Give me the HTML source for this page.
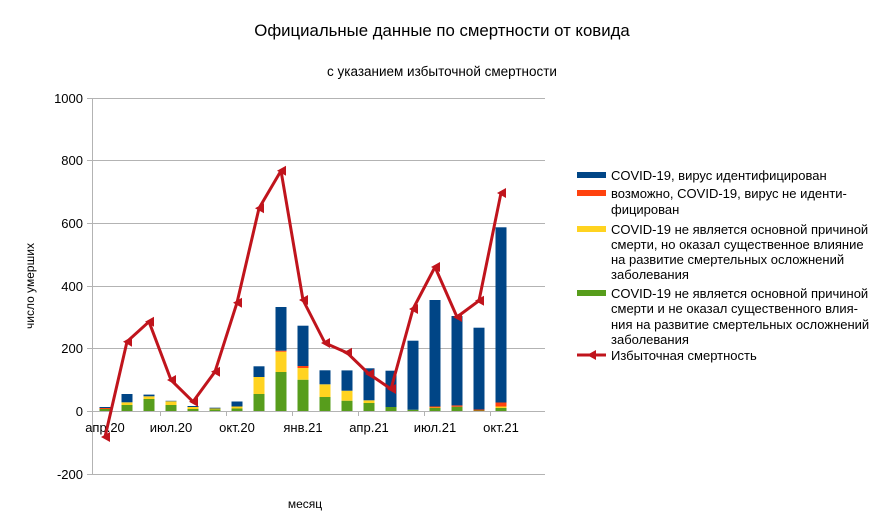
<!DOCTYPE html>
<html><head><meta charset="utf-8"><style>
body{margin:0;background:#fff}
svg{display:block;font-family:"Liberation Sans","DejaVu Sans",sans-serif}
</style></head><body>
<svg width="882" height="531" viewBox="0 0 882 531" xmlns="http://www.w3.org/2000/svg">
<rect width="882" height="531" fill="#fff"/>
<text x="442" y="36" font-size="16.8" text-anchor="middle" fill="#000">Официальные данные по смертности от ковида</text>
<text x="442" y="76" font-size="13.5" text-anchor="middle" fill="#000">с указанием избыточной смертности</text>
<g stroke="#b3b3b3" stroke-width="1">
<line x1="92" y1="98.5" x2="545" y2="98.5"/>
<line x1="92" y1="160.5" x2="545" y2="160.5"/>
<line x1="92" y1="223.5" x2="545" y2="223.5"/>
<line x1="92" y1="286.5" x2="545" y2="286.5"/>
<line x1="92" y1="348.5" x2="545" y2="348.5"/>
<line x1="92" y1="411.5" x2="545" y2="411.5"/>
<line x1="92" y1="474.5" x2="545" y2="474.5"/>
<line x1="92.5" y1="98" x2="92.5" y2="474"/>
<line x1="87" y1="98.5" x2="92" y2="98.5"/><line x1="87" y1="160.5" x2="92" y2="160.5"/><line x1="87" y1="223.5" x2="92" y2="223.5"/><line x1="87" y1="286.5" x2="92" y2="286.5"/><line x1="87" y1="348.5" x2="92" y2="348.5"/><line x1="87" y1="411.5" x2="92" y2="411.5"/><line x1="87" y1="474.5" x2="92" y2="474.5"/>
<line x1="160.5" y1="411" x2="160.5" y2="416"/><line x1="226.5" y1="411" x2="226.5" y2="416"/><line x1="292.5" y1="411" x2="292.5" y2="416"/><line x1="358.5" y1="411" x2="358.5" y2="416"/><line x1="424.5" y1="411" x2="424.5" y2="416"/><line x1="490.5" y1="411" x2="490.5" y2="416"/>
</g>
<g font-size="13" text-anchor="end" fill="#000">
<text x="83" y="103">1000</text><text x="83" y="165">800</text><text x="83" y="228">600</text><text x="83" y="291">400</text><text x="83" y="353">200</text><text x="83" y="416">0</text><text x="83" y="479">-200</text>
</g>
<g font-size="13" text-anchor="middle" fill="#000">
<text x="105" y="432">апр.20</text><text x="171" y="432">июл.20</text><text x="237" y="432">окт.20</text><text x="303" y="432">янв.21</text><text x="369" y="432">апр.21</text><text x="435" y="432">июл.21</text><text x="501" y="432">окт.21</text>
<text x="305" y="508" font-size="12">месяц</text>
</g>
<text transform="translate(34,286) rotate(-90)" font-size="12" text-anchor="middle">число умерших</text>
<g>
<g fill="#579d1c">
<rect x="99.5" y="409" width="11" height="2"/><rect x="121.5" y="405" width="11" height="6"/><rect x="143.5" y="399" width="11" height="12"/><rect x="165.5" y="405" width="11" height="6"/><rect x="187.5" y="409" width="11" height="2"/><rect x="209.5" y="409.5" width="11" height="1.5"/><rect x="231.5" y="408.5" width="11" height="2.5"/><rect x="253.5" y="394" width="11" height="17"/><rect x="275.5" y="372" width="11" height="39"/><rect x="297.5" y="379.7" width="11" height="31.3"/><rect x="319.5" y="397" width="11" height="14"/><rect x="341.5" y="400.7" width="11" height="10.3"/><rect x="363.5" y="403" width="11" height="8"/><rect x="385.5" y="407" width="11" height="4"/><rect x="407.5" y="409.7" width="11" height="1.3"/><rect x="429.5" y="408" width="11" height="3"/><rect x="451.5" y="406.7" width="11" height="4.3"/><rect x="473.5" y="410.5" width="11" height="0.5"/><rect x="495.5" y="408" width="11" height="3"/>
</g>
<g fill="#ffd320">
<rect x="121.5" y="402.3" width="11" height="2.7"/><rect x="143.5" y="396.3" width="11" height="2.7"/><rect x="165.5" y="401.3" width="11" height="3.7"/><rect x="187.5" y="407" width="11" height="2"/><rect x="209.5" y="408.5" width="11" height="1"/><rect x="231.5" y="406.5" width="11" height="2"/><rect x="253.5" y="377" width="11" height="17"/><rect x="275.5" y="351.7" width="11" height="20.3"/><rect x="297.5" y="368" width="11" height="11.7"/><rect x="319.5" y="384.3" width="11" height="12.7"/><rect x="341.5" y="390.7" width="11" height="10"/><rect x="363.5" y="400.3" width="11" height="2.7"/><rect x="429.5" y="407.5" width="11" height="0.5"/><rect x="495.5" y="406.5" width="11" height="1.5"/>
</g>
<g fill="#ff420e">
<rect x="99.5" y="408" width="11" height="1"/><rect x="275.5" y="350.7" width="11" height="1"/><rect x="297.5" y="366" width="11" height="2"/><rect x="429.5" y="406.5" width="11" height="1"/><rect x="451.5" y="405.4" width="11" height="1.3"/><rect x="473.5" y="409.5" width="11" height="1"/><rect x="495.5" y="402.5" width="11" height="4"/>
</g>
<g fill="#004586">
<rect x="99.5" y="407" width="11" height="1"/><rect x="121.5" y="394" width="11" height="8.3"/><rect x="143.5" y="394.6" width="11" height="1.7"/><rect x="165.5" y="400.8" width="11" height="0.5"/><rect x="187.5" y="406" width="11" height="1"/><rect x="209.5" y="407.7" width="11" height="0.8"/><rect x="231.5" y="401.5" width="11" height="5"/><rect x="253.5" y="366.3" width="11" height="10.7"/><rect x="275.5" y="307" width="11" height="43.7"/><rect x="297.5" y="325.7" width="11" height="40.3"/><rect x="319.5" y="370.3" width="11" height="14"/><rect x="341.5" y="370.4" width="11" height="20.3"/><rect x="363.5" y="368.3" width="11" height="32"/><rect x="385.5" y="370.7" width="11" height="36.3"/><rect x="407.5" y="340.7" width="11" height="69"/><rect x="429.5" y="300" width="11" height="106.5"/><rect x="451.5" y="316" width="11" height="89.4"/><rect x="473.5" y="327.7" width="11" height="81.8"/><rect x="495.5" y="227.3" width="11" height="175.2"/>
</g>
</g>
<polyline fill="none" stroke="#c0141c" stroke-width="3" stroke-linejoin="round" points="105,437 127,341.7 149,321.7 171,380 193,401.7 215,371.7 237,302.7 259,208.3 281,170.7 303,300 325,343 347,352.7 369,374 391,389 413,309 435,267 457,317 479,300.7 501,193"/>
<g fill="#c0141c">
<path d="M101,437 l9,-5 v10z"/><path d="M123,341.7 l9,-5 v10z"/><path d="M145,321.7 l9,-5 v10z"/><path d="M167,380 l9,-5 v10z"/><path d="M189,401.7 l9,-5 v10z"/><path d="M211,371.7 l9,-5 v10z"/><path d="M233,302.7 l9,-5 v10z"/><path d="M255,208.3 l9,-5 v10z"/><path d="M277,170.7 l9,-5 v10z"/><path d="M299,300 l9,-5 v10z"/><path d="M321,343 l9,-5 v10z"/><path d="M343,352.7 l9,-5 v10z"/><path d="M365,374 l9,-5 v10z"/><path d="M387,389 l9,-5 v10z"/><path d="M409,309 l9,-5 v10z"/><path d="M431,267 l9,-5 v10z"/><path d="M453,317 l9,-5 v10z"/><path d="M475,300.7 l9,-5 v10z"/><path d="M497,193 l9,-5 v10z"/>
</g>
<g font-size="13" fill="#000">
<rect x="577" y="172" width="29" height="6" fill="#004586"/>
<text x="611" y="180">COVID-19, вирус идентифицирован</text>
<rect x="577" y="190" width="29" height="6" fill="#ff420e"/>
<text x="611" y="198">возможно, COVID-19, вирус не иденти-</text>
<text x="611" y="214">фицирован</text>
<rect x="577" y="226" width="29" height="6" fill="#ffd320"/>
<text x="611" y="234">COVID-19 не является основной причиной</text>
<text x="611" y="249">смерти, но оказал существенное влияние</text>
<text x="611" y="264">на развитие смертельных осложнений</text>
<text x="611" y="279">заболевания</text>
<rect x="577" y="290" width="29" height="6" fill="#579d1c"/>
<text x="611" y="298">COVID-19 не является основной причиной</text>
<text x="611" y="313">смерти и не оказал существенного влия-</text>
<text x="611" y="329">ния на развитие смертельных осложнений</text>
<text x="611" y="344">заболевания</text>
<line x1="577" y1="355" x2="606" y2="355" stroke="#c0141c" stroke-width="3"/>
<path d="M587,355 l9,-5 v10z" fill="#c0141c"/>
<text x="611" y="360">Избыточная смертность</text>
</g>
</svg>
</body></html>
